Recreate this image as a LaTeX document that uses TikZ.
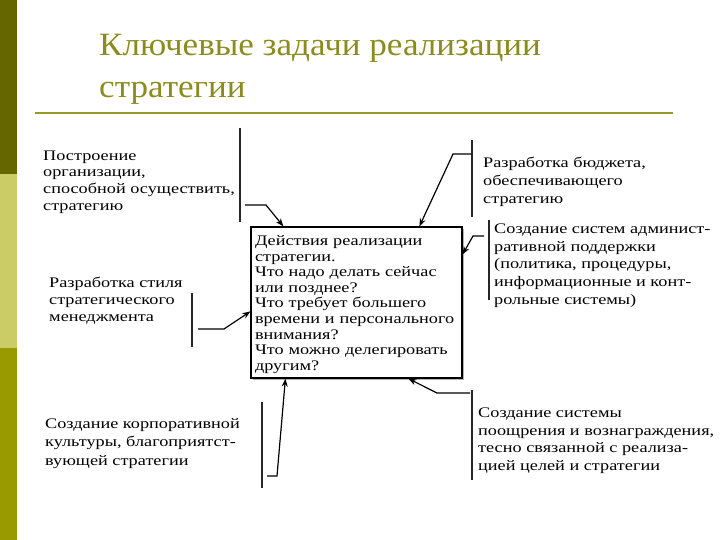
\documentclass[tikz,border=0pt]{standalone}
\usepackage{fontspec}
\setmainfont{Liberation Serif}
\newfontfamily\bodyfont[FakeStretch=1.25]{Liberation Serif}
\newfontfamily\titlefont[FakeStretch=1.08]{Liberation Serif}
\usetikzlibrary{arrows.meta,calc}
\definecolor{stripA}{RGB}{102,102,0}
\definecolor{stripB}{RGB}{204,204,102}
\definecolor{stripC}{RGB}{153,153,0}
\definecolor{titlecol}{RGB}{140,140,30}
\definecolor{rulecol}{RGB}{153,153,40}
\begin{document}
\begin{tikzpicture}[x=1pt,y=-1pt,
  lbl/.style={anchor=north west, inner sep=0pt, align=left},
  bar/.style={line width=1.3pt, draw=black!85},
  conn/.style={line width=1.2pt, -{Stealth[length=8pt,width=6pt]}},
  actbox/.style={draw, line width=1.2pt, minimum width=211pt, minimum height=151pt, text width=203pt, inner sep=4pt, align=left, font=\bodyfont\fontsize{14.6}{15.6}\selectfont}
]
\useasboundingbox (0,0) rectangle (720,540);
\fill[white] (0,0) rectangle (720,540);
% left strip
\fill[stripA] (0,0) rectangle (17,174);
\fill[stripB] (0,174) rectangle (17,348);
\fill[stripC] (0,348) rectangle (17,540);
% title
\node[anchor=base west, inner sep=0pt, text=titlecol, font=\titlefont\fontsize{32.5}{43}\selectfont] (title1) at (99,56) {Ключевые задачи реализации};
\node[anchor=base west, inner sep=0pt, text=titlecol, font=\titlefont\fontsize{32.5}{43}\selectfont] (title2) at (99,98) {стратегии};
\draw[rulecol, line width=2.2pt] (35,113) -- (673,113);
% central box
\fill[black!30] (253,229) rectangle (464,380);
\node[actbox, fill=white] (act) at (356.5,302.5) {\rule{0pt}{14pt}Действия реализации\\стратегии.\\Что надо делать сейчас\\или позднее?\\Что требует большего\\времени и персонального\\внимания?\\Что можно делегировать\\другим?};
% labels
\node[lbl, font=\bodyfont\fontsize{14.6}{16.7}\selectfont] (org) at (43,150.5) {Построение\\организации,\\способной осуществить,\\стратегию};
\node[lbl, font=\bodyfont\fontsize{14.6}{18}\selectfont] (bud) at (483,157) {Разработка бюджета,\\обеспечивающего\\стратегию};
\node[lbl, font=\bodyfont\fontsize{14.6}{17.7}\selectfont] (adm) at (494,223.5) {Создание систем админист-\\ративной поддержки\\(политика, процедуры,\\информационные и конт-\\рольные системы)};
\node[lbl, font=\bodyfont\fontsize{14.6}{17}\selectfont] (sty) at (49,277) {Разработка стиля\\стратегического\\менеджмента};
\node[lbl, font=\bodyfont\fontsize{14.6}{18.5}\selectfont] (cul) at (45,418) {Создание корпоративной\\культуры, благоприятст-\\вующей стратегии};
\node[lbl, font=\bodyfont\fontsize{14.6}{17.7}\selectfont] (rew) at (478,407.5) {Создание системы\\поощрения и вознаграждения,\\тесно связанной с реализа-\\цией целей и стратегии};
% bars
\draw[bar] (240,128) -- (240,222);
\draw[bar] (472,140) -- (472,217);
\draw[bar] (489,220) -- (489,300);
\draw[bar] (192,293) -- (192,347);
\draw[bar] (262,402) -- (262,488);
\draw[bar] (472,390) -- (472,480);
% connector coordinates
\coordinate (o1) at (245,205); \coordinate (o2) at (266,205);
\coordinate (b1) at (471,154); \coordinate (b2) at (453,154);
\coordinate (a1) at (484,236); \coordinate (a2) at (473,236);
\coordinate (s1) at (198,329); \coordinate (s2) at (224,329);
\coordinate (c1) at (267,476); \coordinate (c2) at (277,476);
\coordinate (r1) at (470,393); \coordinate (r2) at (437,393);
% connectors
\draw[conn] (o1) -- (o2) -- ($(act.north west)+(33,0)$);
\draw[conn] (b1) -- (b2) -- ($(act.north west)+(169,0)$);
\draw[conn] (a1) -- (a2) -- ($(act.north east)+(0,28)$);
\draw[conn] (s1) -- (s2) -- ($(act.north west)+(0,85)$);
\draw[conn] (c1) -- (c2) -- ($(act.south west)+(35,0)$);
\draw[conn] (r1) -- (r2) -- ($(act.south west)+(158,0)$);
\end{tikzpicture}
\end{document}
